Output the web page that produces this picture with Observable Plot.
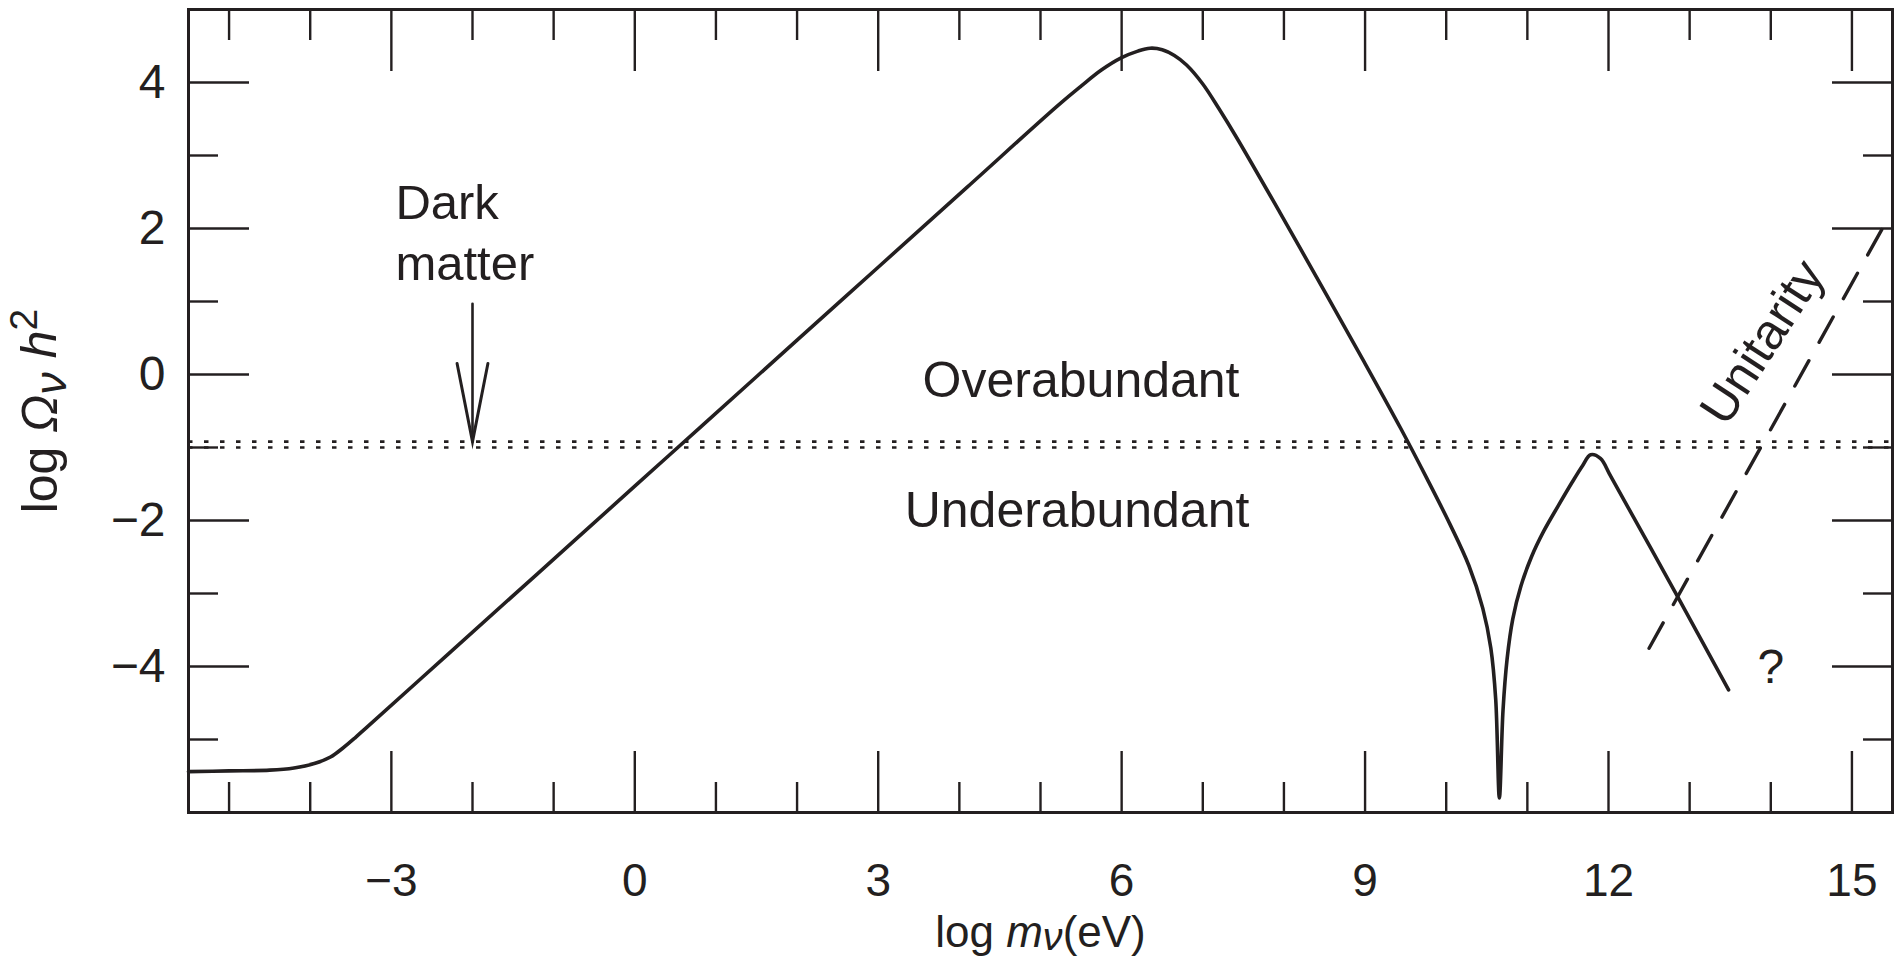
<!DOCTYPE html>
<html>
<head>
<meta charset="utf-8">
<script src="https://cdn.jsdelivr.net/npm/d3@7"></script>
<script src="https://cdn.jsdelivr.net/npm/@observablehq/plot@0.6"></script>
<style>
  html, body { margin: 0; padding: 0; background: #ffffff; }
  #chart svg { display: block; }
</style>
</head>
<body>
<div id="chart"></div>
<script>
// ---- data ----
const massLog = [-5.5, -5.0, -4.5, -4.2, -3.95, -3.75, -3.6, -3.45, -3.3, -2.3, -1.2, 0, 0.82, 2.0, 3.02, 4.1, 5.22, 5.5, 5.75, 6.0, 6.2, 6.35, 6.5, 6.65, 6.8, 7.0, 7.2, 7.42, 7.96, 8.52, 9.0, 9.44, 9.76, 10.05, 10.28, 10.45, 10.55, 10.61, 10.655, 10.7, 10.75, 10.82, 10.92, 11.05, 11.2, 11.38, 11.55, 11.68, 11.78, 11.9, 12.03, 12.85, 13.48];
const omegaLog = [-5.44, -5.43, -5.42, -5.39, -5.33, -5.24, -5.12, -4.98, -4.83, -3.83, -2.73, -1.53, -0.71, 0.47, 1.49, 2.57, 3.69, 3.95, 4.17, 4.34, 4.43, 4.47, 4.45, 4.37, 4.24, 3.98, 3.64, 3.24, 2.2, 1.1, 0.15, -0.74, -1.42, -2.06, -2.62, -3.2, -3.75, -4.45, -5.8, -4.6, -3.9, -3.35, -2.9, -2.5, -2.15, -1.8, -1.48, -1.25, -1.1, -1.15, -1.4, -3.04, -4.32];

const unitarityMass = [12.5, 15.45];
const unitarityOmega = [-3.75, 2.15];

const darkMatterLevels = [-1.0, -0.92];

const arrowShaftX = [-2, -2];
const arrowShaftY = [0.97, -0.92];
const arrowHeadX = [-2.19, -2, -1.81];
const arrowHeadY = [0.15, -0.92, 0.15];

const xMajorTicks = [-3, 0, 3, 6, 9, 12, 15];
const xMinorTicks = [-5, -4, -2, -1, 1, 2, 4, 5, 7, 8, 10, 11, 13, 14];
const yMajorTicks = [-4, -2, 0, 2, 4];
const yMinorTicks = [-5, -3, -1, 1, 3];

const noteText = ["Dark\nmatter", "Overabundant", "Underabundant", "Unitarity", "?"];
const noteX = [-2.95, 5.5, 5.45, 13.9, 14.0];
const noteY = [1.29, -0.31, -2.09, 0.44, -4.23];

const xLabel = "log m\u03bd(eV)";
const yLabel = "log \u03a9\u03bd h2";

// ---- build ----
const ink = "#231f20";
const font = '"Liberation Sans", Arial, Helvetica, sans-serif';
const curve = massLog.map((x, i) => ({x, y: omegaLog[i]}));
const unitarity = unitarityMass.map((x, i) => ({x, y: unitarityOmega[i]}));
const shaft = arrowShaftX.map((x, i) => ({x, y: arrowShaftY[i]}));
const head = arrowHeadX.map((x, i) => ({x, y: arrowHeadY[i]}));
const notes = noteText.map((t, i) => ({t, x: noteX[i], y: noteY[i]}));
const fmt = d => d < 0 ? "\u2212" + Math.abs(d) : String(d);
const blank = () => "";

const majorLen = -61, minorLen = -30, tickW = 2.4;

const svg = Plot.plot({
  width: 1903,
  height: 961,
  marginLeft: 188,
  marginRight: 11,
  marginTop: 9,
  marginBottom: 149,
  style: {fontFamily: font, color: ink, background: "#ffffff", overflow: "visible"},
  x: {domain: [-5.5, 15.5]},
  y: {domain: [-6, 5]},
  marks: [
    // ticks (inward) on all four sides
    Plot.axisX(xMajorTicks, {anchor: "bottom", tickSize: majorLen, strokeWidth: tickW, tickFormat: blank, label: null}),
    Plot.axisX(xMinorTicks, {anchor: "bottom", tickSize: minorLen, strokeWidth: tickW, tickFormat: blank, label: null}),
    Plot.axisX(xMajorTicks, {anchor: "top", tickSize: majorLen, strokeWidth: tickW, tickFormat: blank, label: null}),
    Plot.axisX(xMinorTicks, {anchor: "top", tickSize: minorLen, strokeWidth: tickW, tickFormat: blank, label: null}),
    Plot.axisY(yMajorTicks, {anchor: "left", tickSize: majorLen, strokeWidth: tickW, tickFormat: blank, label: null}),
    Plot.axisY(yMinorTicks, {anchor: "left", tickSize: minorLen, strokeWidth: tickW, tickFormat: blank, label: null}),
    Plot.axisY(yMajorTicks, {anchor: "right", tickSize: majorLen, strokeWidth: tickW, tickFormat: blank, label: null}),
    Plot.axisY(yMinorTicks, {anchor: "right", tickSize: minorLen, strokeWidth: tickW, tickFormat: blank, label: null}),
    // tick labels
    Plot.axisX(xMajorTicks, {anchor: "bottom", tickSize: 0, tickPadding: 51, fontSize: 46, tickFormat: fmt, label: null}),
    Plot.axisY(yMajorTicks, {anchor: "left", tickSize: 0, tickPadding: 23, fontSize: 48, tickFormat: fmt, label: null}),
    // dark matter band (dotted)
    Plot.ruleY(darkMatterLevels, {stroke: ink, strokeWidth: 2.6, strokeDasharray: "4.5,11.5"}),
    // relic abundance curve
    Plot.line(curve, {x: "x", y: "y", curve: "catmull-rom", stroke: ink, strokeWidth: 3.6}),
    // unitarity bound
    Plot.line(unitarity, {x: "x", y: "y", stroke: ink, strokeWidth: 3.4, strokeDasharray: "29,21"}),
    // arrow
    Plot.line(shaft, {x: "x", y: "y", stroke: ink, strokeWidth: 2.6}),
    Plot.line(head, {x: "x", y: "y", stroke: ink, strokeWidth: 3, strokeLinejoin: "miter", strokeMiterlimit: 12}),
    // annotations
    Plot.text(notes.slice(0, 1), {x: "x", y: "y", text: "t", textAnchor: "start", lineAnchor: "bottom", lineHeight: 1.25, fontSize: 49, fill: ink}),
    Plot.text(notes.slice(1, 3), {x: "x", y: "y", text: "t", textAnchor: "middle", lineAnchor: "bottom", fontSize: 50, fill: ink}),
    Plot.text(notes.slice(3, 4), {x: "x", y: "y", text: "t", textAnchor: "middle", lineAnchor: "middle", rotate: -57, fontSize: 50, fill: ink}),
    Plot.text(notes.slice(4, 5), {x: "x", y: "y", text: "t", textAnchor: "middle", lineAnchor: "bottom", fontSize: 48, fill: ink}),
    // axis titles
    Plot.text([xLabel], {text: d => d, frameAnchor: "bottom", textAnchor: "middle", lineAnchor: "bottom", dy: 134, fontSize: 44, fill: ink}),
    Plot.text([yLabel], {text: d => d, frameAnchor: "left", rotate: -90, textAnchor: "middle", lineAnchor: "bottom", dx: -132, fontSize: 50, fill: ink}),
    Plot.frame({stroke: ink, strokeWidth: 3})
  ]
});

// rich text (italic, sub/superscripts) for the axis titles
function setRich(el, parts) {
  const t = d3.select(el);
  t.text(null);
  for (const p of parts) {
    const s = t.append("tspan").text(p.text);
    if (p.italic) s.attr("font-style", "italic");
    if (p.size) s.attr("font-size", p.size);
    if (p.dy) s.attr("dy", p.dy);
  }
}
d3.select(svg).selectAll("text").each(function () {
  if (this.textContent === xLabel) {
    setRich(this, [
      {text: "log "}, {text: "m", italic: true},
      {text: "\u03bd", italic: true, size: "0.9em", dy: "0.1em"},
      {text: "(eV)", dy: "-0.09em"}
    ]);
  } else if (this.textContent === yLabel) {
    setRich(this, [
      {text: "log "}, {text: "\u03a9", italic: true},
      {text: "\u03bd", italic: true, size: "0.9em", dy: "0.22em"},
      {text: " "}, {text: "h", italic: true, dy: "-0.2em"},
      {text: "2", size: "0.78em", dy: "-0.5em"}
    ]);
  }
});

document.getElementById("chart").appendChild(svg);
</script>
</body>
</html>
